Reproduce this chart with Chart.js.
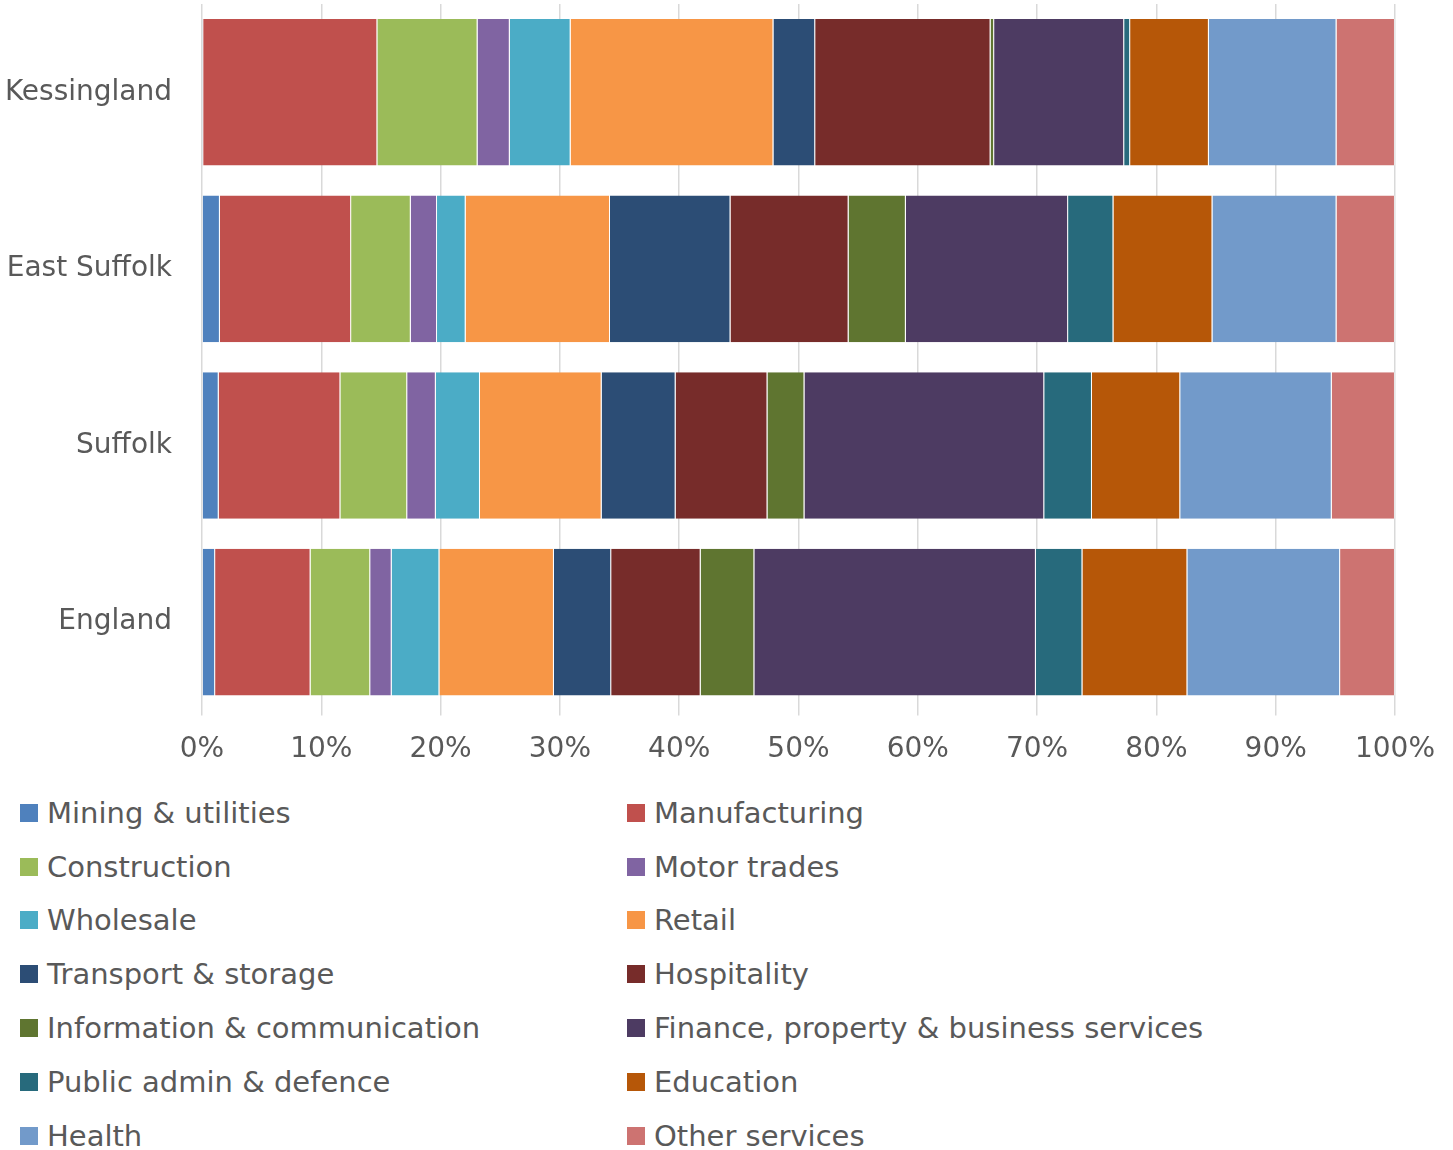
<!DOCTYPE html>
<html lang="en">
<head>
  <meta charset="UTF-8">
  <title>Employment by sector</title>
  <script src="https://cdn.jsdelivr.net/npm/chart.js"></script>
  <style>
    body { margin: 0; background: #fff; font-family: "DejaVu Sans", sans-serif; }
    #wrap { position: relative; width: 1453px; height: 1150px; }
    #chart { position: absolute; left: 0; top: 0; }
    #legend {
      position: absolute; left: 20px; top: 786px;
      display: grid; grid-template-columns: 607px 700px; grid-auto-rows: 53.8px;
      color: #595959; font-size: 29px;
    }
    #legend div { display: flex; align-items: center; white-space: nowrap; }
    #legend span.box { width: 18px; height: 18px; margin-right: 9px; flex: none; }
  </style>
</head>
<body>
  <div id="wrap">
    <canvas id="chart" width="1453" height="785"></canvas>
    <div id="legend"></div>
  </div>

  <script>
    const areas = ['Kessingland', 'East Suffolk', 'Suffolk', 'England'];
    const sectors = ['Mining & utilities', 'Manufacturing', 'Construction', 'Motor trades', 'Wholesale', 'Retail',
      'Transport & storage', 'Hospitality', 'Information & communication', 'Finance, property & business services',
      'Public admin & defence', 'Education', 'Health', 'Other services'];
    const colors = ['#4F81BD', '#C0504D', '#9BBB59', '#8064A2', '#4BACC6', '#F79646', '#2C4D75',
      '#772C2A', '#5F7530', '#4D3B62', '#276A7C', '#B65708', '#729ACA', '#CD7371'];

    // share of employment (%) per sector, same order as sectors
    const kessingland = [0.1, 14.6, 8.4, 2.7, 5.1, 17.0, 3.5, 14.7, 0.3, 10.9, 0.5, 6.6, 10.7, 4.9];
    const eastSuffolk = [1.5, 11.0, 5.0, 2.2, 2.4, 12.1, 10.1, 9.9, 4.8, 13.6, 3.8, 8.3, 10.4, 4.9];
    const suffolk = [1.4, 10.2, 5.6, 2.4, 3.7, 10.2, 6.2, 7.7, 3.1, 20.1, 4.0, 7.4, 12.7, 5.3];
    const england = [1.1, 8.0, 5.0, 1.8, 4.0, 9.6, 4.8, 7.5, 4.5, 23.6, 3.9, 8.8, 12.8, 4.6];
    const xTicks = [0, 10, 20, 30, 40, 50, 60, 70, 80, 90, 100];

    const rows = [kessingland, eastSuffolk, suffolk, england];
    const datasets = sectors.map((s, i) => ({
      label: s,
      data: rows.map(r => r[i]),
      backgroundColor: colors[i],
      borderColor: 'rgba(255,255,255,0.4)',
      borderWidth: { top: 0, bottom: 0, left: 0, right: 1 },
      borderSkipped: false,
      barPercentage: 0.83,
      categoryPercentage: 1
    }));

    new Chart(document.getElementById('chart'), {
      type: 'bar',
      data: { labels: areas, datasets },
      options: {
        indexAxis: 'y',
        responsive: false,
        animation: false,
        layout: { padding: { left: 0, right: 57, top: 4, bottom: 0 } },
        plugins: { legend: { display: false }, tooltip: { enabled: false } },
        scales: {
          x: {
            stacked: true,
            min: 0, max: 100,
            afterBuildTicks: scale => { scale.ticks = xTicks.map(v => ({ value: v })); },
            ticks: { callback: v => v + '%', color: '#595959', padding: 18, font: { family: 'DejaVu Sans', size: 28 } },
            grid: { color: '#d9d9d9', lineWidth: 1.5, tickLength: 5 },
            border: { display: false }
          },
          y: {
            stacked: true,
            afterFit: scale => {
              scale.width = 202;
              scale.paddingTop = 0;
              scale.paddingBottom = 0;
            },
            ticks: { color: '#595959', padding: 22, font: { family: 'DejaVu Sans', size: 28 } },
            grid: { display: false },
            border: { display: false }
          }
        }
      }
    });

    document.getElementById('legend').innerHTML = sectors.map((s, i) =>
      `<div><span class="box" style="background:${colors[i]}"></span>${s}</div>`
    ).join('');
  </script>
</body>
</html>
